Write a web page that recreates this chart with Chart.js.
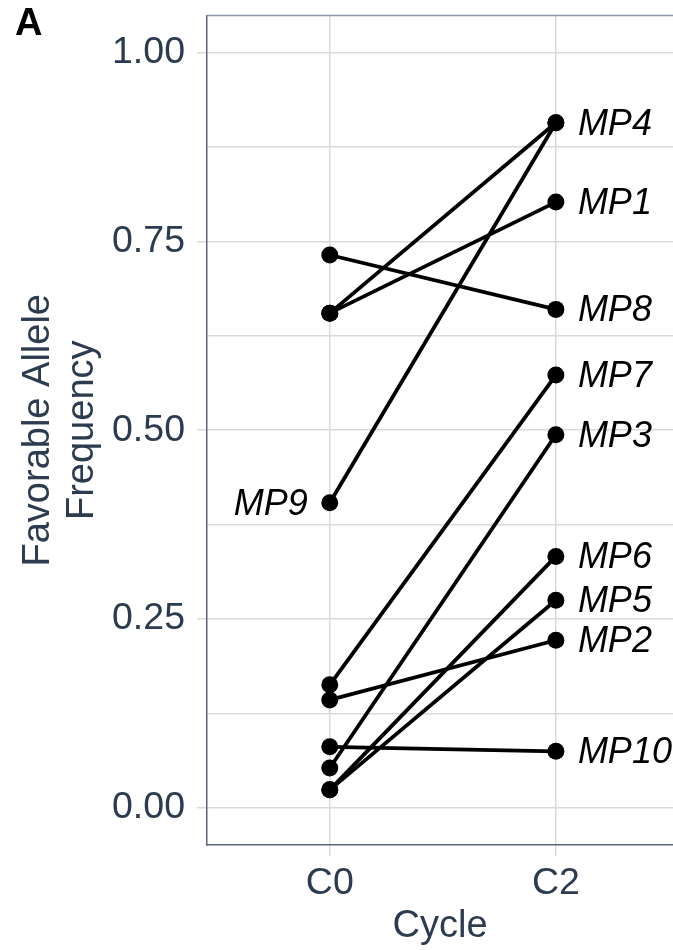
<!DOCTYPE html>
<html>
<head>
<meta charset="utf-8">
<script src="https://cdn.jsdelivr.net/npm/chart.js@4/dist/chart.umd.min.js"></script>
<style>
  html, body { margin: 0; padding: 0; background: #ffffff; overflow: hidden; }
  #wrap { position: relative; width: 673px; height: 950px; }
  canvas { display: block; }
</style>
</head>
<body>
<div id="wrap"><canvas id="c"></canvas></div>
<script>
// ---- data ----
const categories = ['C0', 'C2'];
const markers = ['MP1', 'MP2', 'MP3', 'MP4', 'MP5', 'MP6', 'MP7', 'MP8', 'MP9', 'MP10'];
const freqC0 = [0.655, 0.143, 0.053, 0.655, 0.024, 0.024, 0.163, 0.732, 0.404, 0.081];
const freqC2 = [0.802, 0.222, 0.494, 0.907, 0.275, 0.333, 0.573, 0.660, 0.907, 0.075];
const labelCategory = [1, 1, 1, 1, 1, 1, 1, 1, 0, 1]; // which cycle each marker name sits next to
const yMajorTicks = [0, 0.25, 0.5, 0.75, 1.0];
const yTickLabels = ['0.00', '0.25', '0.50', '0.75', '1.00'];
const yMinorTicks = [0.125, 0.375, 0.625, 0.875];
const panelLabel = 'A';
const yTitle = ['Favorable Allele', 'Frequency'];
const xTitle = 'Cycle';

// ---- styling ----
const FONT = '"Liberation Sans", Arial, Helvetica, sans-serif';
const TEXT = '#2c3b4f';
const GRID = '#d9d9d9';
const AXIS = '#5a6578';

const datasets = markers.map((m, i) => ({
  label: m,
  data: categories.map((c, j) => ({ x: j, y: j === 0 ? freqC0[i] : freqC2[i] })),
  borderColor: '#000000',
  backgroundColor: '#000000',
  borderWidth: 3.8,
  pointRadius: 8.5,
  pointHoverRadius: 8.5,
  pointBorderWidth: 0,
  pointBackgroundColor: '#000000',
  tension: 0,
  clip: false
}));

const allYTicks = yMajorTicks.concat(yMinorTicks).sort((a, b) => a - b);
const isMajor = v => yMajorTicks.some(t => Math.abs(t - v) < 1e-9);

const extras = {
  id: 'extras',
  afterDraw(chart) {
    const { ctx, chartArea } = chart;
    ctx.save();
    // top frame line
    ctx.strokeStyle = '#8e98a7';
    ctx.lineWidth = 1.5;
    ctx.beginPath();
    ctx.moveTo(chartArea.left, chartArea.top);
    ctx.lineTo(chartArea.right, chartArea.top);
    ctx.stroke();
    // panel letter
    ctx.fillStyle = '#000000';
    ctx.font = 'bold 38px ' + FONT;
    ctx.textAlign = 'left';
    ctx.textBaseline = 'alphabetic';
    ctx.fillText(panelLabel, 15, 35);
    ctx.restore();
  },
  afterDatasetsDraw(chart) {
    const { ctx } = chart;
    ctx.save();
    ctx.fillStyle = '#000000';
    ctx.font = 'italic 36px ' + FONT;
    ctx.textBaseline = 'middle';
    markers.forEach((m, i) => {
      const meta = chart.getDatasetMeta(i);
      const k = labelCategory[i];
      const pt = meta.data[k];
      if (k === 1) {
        ctx.textAlign = 'left';
        ctx.fillText(m, pt.x + 22, pt.y + 2);
      } else {
        ctx.textAlign = 'right';
        ctx.fillText(m, pt.x - 22, pt.y + 2);
      }
    });
    ctx.restore();
  }
};

new Chart(document.getElementById('c'), {
  type: 'line',
  data: { datasets },
  options: {
    responsive: true,
    maintainAspectRatio: false,
    animation: false,
    events: [],
    layout: { autoPadding: false, padding: { top: 15.5, right: 0, left: 0, bottom: 0 } },
    plugins: { legend: { display: false }, tooltip: { enabled: false } },
    scales: {
      x: {
        type: 'linear',
        min: -0.543,
        max: 1.518,
        bounds: 'data',
        afterBuildTicks: s => { s.ticks = categories.map((c, j) => ({ value: j })); },
        afterFit: s => { s.height = 105; s.paddingLeft = 0; s.paddingRight = 0; },
        ticks: {
          callback: v => categories[Math.round(v)],
          font: { family: FONT, size: 37.5 },
          color: TEXT,
          padding: 5,
          maxRotation: 0,
          autoSkip: false
        },
        grid: { color: GRID, lineWidth: 1.5, tickLength: 11, tickColor: GRID },
        border: { display: true, color: AXIS, width: 1.5 },
        title: {
          display: true, text: xTitle, color: TEXT,
          font: { family: FONT, size: 38, lineHeight: 1.2 },
          padding: { top: 0, bottom: 1 }
        }
      },
      y: {
        type: 'linear',
        min: -0.049,
        max: 1.049,
        bounds: 'data',
        afterBuildTicks: s => { s.ticks = allYTicks.map(v => ({ value: v })); },
        afterFit: s => { s.width = 207; s.paddingTop = 0; s.paddingBottom = 0; },
        ticks: {
          callback: v => { const i = yMajorTicks.findIndex(t => Math.abs(t - v) < 1e-9); return i >= 0 ? yTickLabels[i] : ''; },
          font: { family: FONT, size: 37.5 },
          color: TEXT,
          padding: 12,
          autoSkip: false
        },
        grid: {
          color: GRID, lineWidth: 1.5, tickLength: 10,
          tickColor: ctx => (ctx.tick && isMajor(ctx.tick.value)) ? GRID : 'rgba(0,0,0,0)'
        },
        border: { display: true, color: AXIS, width: 1.5 },
        title: {
          display: true, text: yTitle, color: TEXT,
          font: { family: FONT, size: 38, lineHeight: 1.16 },
          padding: { top: 16, bottom: 0 }
        }
      }
    }
  },
  plugins: [extras]
});
</script>
</body>
</html>
